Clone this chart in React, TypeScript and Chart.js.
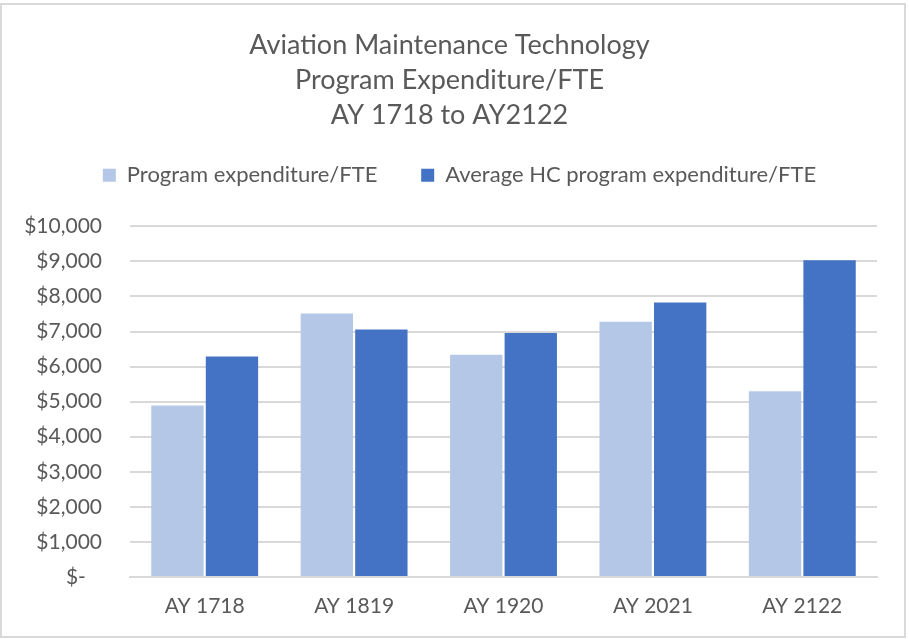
import React, { useEffect, useRef } from "react";
import { Chart, registerables } from "chart.js";

Chart.register(...registerables);

const categories = ["AY 1718", "AY 1819", "AY 1920", "AY 2021", "AY 2122"];
const programExpenditure = [4890, 7510, 6340, 7275, 5295];
const averageHcExpenditure = [6285, 7055, 6960, 7825, 9030];
const seriesNames = ["Program expenditure/FTE", "Average HC program expenditure/FTE"];
const titleLines = ["Aviation Maintenance Technology", "Program Expenditure/FTE", "AY 1718 to AY2122"];
const yMin = 0;
const yMax = 10000;
const yStep = 1000;

const FONT = "Lato, 'Open Sans', sans-serif";
const TEXT = "#595959";
const GRID = "#D9D9D9";

const legendMargin = {
  id: "legendMargin",
  beforeInit(chart: any) {
    const legend = chart.legend;
    if (!legend) return;
    const orig = legend.fit;
    legend.fit = function fit() {
      orig.bind(legend)();
      this.height += 30;
    };
  },
  afterLayout(chart: any) {
    const legend = chart.legend;
    if (!legend) return;
    legend.left += 10;
    legend.right += 10;
  },
};

export default function App() {
  const ref = useRef<HTMLCanvasElement | null>(null);

  useEffect(() => {
    if (!ref.current) return;
    const chart = new Chart(ref.current, {
      type: "bar",
      data: {
        labels: categories,
        datasets: [
          {
            label: seriesNames[0],
            data: programExpenditure,
            backgroundColor: "#B4C7E7",
            borderWidth: 0,
          },
          {
            label: seriesNames[1],
            data: averageHcExpenditure,
            backgroundColor: "#4472C4",
            borderWidth: 0,
          },
        ],
      },
      plugins: [legendMargin],
      options: {
        responsive: false,
        animation: false,
        devicePixelRatio: 1,
        datasets: {
          bar: { categoryPercentage: 0.73, barPercentage: 0.96 },
        },
        layout: { padding: { top: 4, left: 22, right: 32, bottom: 10 } },
        plugins: {
          title: {
            display: true,
            text: titleLines,
            color: TEXT,
            font: { family: FONT, size: 27, weight: "normal", lineHeight: 1.3 },
            padding: { top: 24, bottom: 21 },
          },
          legend: {
            display: true,
            position: "top",
            labels: {
              color: TEXT,
              font: { family: FONT, size: 22 },
              boxWidth: 13,
              boxHeight: 13,
              padding: 10,
              generateLabels: (chart: any) => {
                const items = Chart.defaults.plugins.legend.labels.generateLabels(chart);
                if (items.length > 0) items[0].text = items[0].text + "      ";
                return items;
              },
            },
          },
          tooltip: { enabled: false },
        },
        scales: {
          x: {
            grid: { display: false, drawTicks: false },
            border: { display: true, color: GRID, width: 2 },
            ticks: {
              color: TEXT,
              font: { family: FONT, size: 21 },
              padding: 17,
            },
            afterFit: (scale: any) => {
              scale.height = 52;
            },
          },
          y: {
            min: yMin,
            max: yMax,
            ticks: {
              stepSize: yStep,
              color: TEXT,
              font: { family: FONT, size: 21 },
              padding: 28,
              callback: (v: any) =>
                Number(v) === 0 ? "$-   " : "$" + Number(v).toLocaleString("en-US"),
            },
            afterFit: (scale: any) => {
              scale.width = 108;
            },
            grid: { color: GRID, lineWidth: 2, drawTicks: false },
            border: { display: false },
          },
        },
      },
    });
    return () => chart.destroy();
  }, []);

  return (
    <div style={{ position: "fixed", left: 0, top: 0, width: 909, height: 639, background: "#fff" }}>
      <canvas ref={ref} width={909} height={639} style={{ position: "absolute", left: 0, top: 0 }} />
      <div
        style={{
          position: "absolute",
          left: 0,
          top: 3,
          width: 906,
          height: 635,
          border: `2px solid ${GRID}`,
          boxSizing: "border-box",
          pointerEvents: "none",
        }}
      />
    </div>
  );
}
